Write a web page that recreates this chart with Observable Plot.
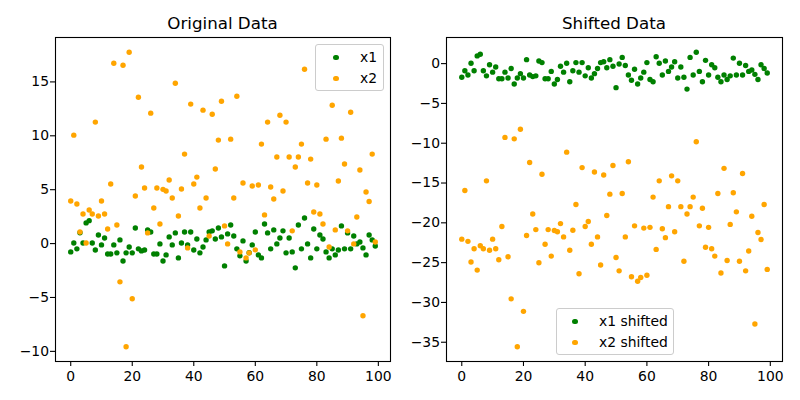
<!DOCTYPE html>
<html><head><meta charset="utf-8">
<script src="https://cdn.jsdelivr.net/npm/d3@7"></script>
<script src="https://cdn.jsdelivr.net/npm/@observablehq/plot@0.6"></script>
<style>
body{margin:0;background:#fff;}
#fig{position:relative;width:800px;height:400px;font-family:"DejaVu Sans",sans-serif;color:#000;overflow:hidden;}
.panel{position:absolute;top:0;}
.title{position:absolute;top:13px;font-size:16.7px;line-height:20px;text-align:center;white-space:nowrap;}
.legend{position:absolute;border:1px solid #cccccc;border-radius:3px;background:rgba(255,255,255,0.8);font-size:13.9px;box-sizing:border-box;}
.row{position:absolute;height:18px;line-height:18px;white-space:nowrap;}
.mk{position:absolute;width:5.4px;height:5.4px;border-radius:50%;}
</style>
</head><body>
<div id="fig">
  <div id="left" class="panel" style="left:0"></div>
  <div id="right" class="panel" style="left:400px"></div>
  <div class="title" style="left:55px;width:335px;">Original Data</div>
  <div class="title" style="left:446px;width:336px;">Shifted Data</div>
  <div class="legend" style="left:315px;top:44px;width:69px;height:47px;">
    <span class="mk" style="left:17.3px;top:9.6px;background:#008000"></span>
    <div class="row" style="left:44px;top:3px;">x1</div>
    <span class="mk" style="left:17.3px;top:30.6px;background:#ffa500"></span>
    <div class="row" style="left:44px;top:24px;">x2</div>
  </div>
  <div class="legend" style="left:556px;top:308px;width:118px;height:47px;">
    <span class="mk" style="left:15.3px;top:9.6px;background:#008000"></span>
    <div class="row" style="left:42px;top:3px;">x1 shifted</div>
    <span class="mk" style="left:15.3px;top:30.6px;background:#ffa500"></span>
    <div class="row" style="left:42px;top:24px;">x2 shifted</div>
  </div>
</div>
<script>
const x1 = [-0.77,0.06,-0.49,1.0,0.06,1.92,2.13,0.06,-0.59,0.80,-0.12,0.52,-0.96,-0.96,-0.12,-0.86,0.34,-1.61,-0.86,-0.31,
-0.86,1.45,-0.49,-0.68,-0.59,1.27,1.08,-0.96,-0.96,-0.03,-1.61,-1.05,0.62,-0.12,0.99,-1.33,0.06,1.08,-0.12,1.08,
-0.59,0.43,-0.86,-0.31,0.34,1.08,1.18,0.43,1.45,0.62,-2.07,0.90,1.73,0.71,-0.49,-1.14,0.25,-1.61,-0.85,-0.12,
1.08,-1.05,-1.33,1.82,0.99,-0.49,1.27,-0.03,0.52,1.18,-0.86,0.52,-0.77,-2.25,1.73,-0.49,2.38,-0.03,-1.33,1.36,
-0.49,0.80,0.43,-0.77,-1.33,-0.49,-1.05,-0.59,1.64,-0.49,0.99,-0.49,0.71,-0.03,0.15,-0.40,-1.05,0.80,0.34,-0.22];
const x2 = [3.95,10.06,3.67,1.08,2.75,0.06,3.12,2.75,11.27,2.56,3.95,2.75,1.36,5.53,16.73,1.73,-3.55,16.55,-9.57,17.75,
-5.12,4.41,13.58,7.1,5.15,0.99,12.1,3.3,5.15,1.82,5.03,4.88,5.9,4.23,14.88,2.56,5.06,8.3,-0.4,12.94,
5.53,6.17,3.3,12.38,4.23,0.71,12.0,6.92,9.6,13.2,1.64,-0.03,9.69,4.23,13.67,-0.77,5.62,-1.33,-0.86,5.34,
-0.58,5.43,9.23,2.66,11.27,5.25,4.14,8.03,11.9,4.88,11.27,8.03,1.18,7.1,8.03,9.23,16.18,5.62,7.84,2.93,
5.43,2.75,1.82,9.69,-0.31,12.84,1.27,5.8,9.78,7.38,1.18,12.19,-0.03,2.47,6.82,-6.7,4.78,3.9,8.3,0.15];
const x1Shifted = [-1.72,-0.89,-1.44,0.05,-0.89,0.97,1.18,-0.89,-1.54,-0.15,-1.07,-0.43,-1.91,-1.91,-1.07,-1.81,-0.61,-2.56,-1.81,-1.26,
-1.81,0.50,-1.44,-1.63,-1.54,0.32,0.13,-1.91,-1.91,-0.98,-2.56,-2.00,-0.33,-1.07,0.04,-2.28,-0.89,0.13,-1.07,0.13,
-1.54,-0.52,-1.81,-1.26,-0.61,0.13,0.23,-0.52,0.50,-0.33,-3.02,-0.05,0.78,-0.24,-1.44,-2.09,-0.70,-2.56,-1.80,-1.07,
0.13,-2.00,-2.28,0.87,0.04,-1.44,0.32,-0.98,-0.43,0.23,-1.81,-0.43,-1.72,-3.20,0.78,-1.44,1.43,-0.98,-2.28,0.41,
-1.44,-0.15,-0.52,-1.72,-2.28,-1.44,-2.00,-1.54,0.69,-1.44,0.04,-1.44,-0.24,-0.98,-0.80,-1.35,-2.00,-0.15,-0.61,-1.17];
const x2Shifted = [-22.05,-15.94,-22.33,-24.92,-23.25,-25.94,-22.88,-23.25,-14.73,-23.44,-22.05,-23.25,-24.64,-20.47,-9.27,-24.27,-29.55,-9.45,-35.57,-8.25,
-31.12,-21.59,-12.42,-18.9,-20.85,-25.01,-13.9,-22.7,-20.85,-24.18,-20.97,-21.12,-20.1,-21.77,-11.12,-23.44,-20.94,-17.7,-26.4,-13.06,
-20.47,-19.83,-22.7,-13.62,-21.77,-25.29,-14.0,-19.08,-16.4,-12.8,-24.36,-26.03,-16.31,-21.77,-12.33,-26.77,-20.38,-27.33,-26.86,-20.66,
-26.58,-20.57,-16.77,-23.34,-14.73,-20.75,-21.86,-17.97,-14.1,-21.12,-14.73,-17.97,-24.82,-18.9,-17.97,-16.77,-9.82,-20.38,-18.16,-23.07,
-20.57,-23.25,-24.18,-16.31,-26.31,-13.16,-24.73,-20.2,-16.22,-18.62,-24.82,-13.81,-26.03,-23.53,-19.18,-32.7,-21.22,-22.1,-17.7,-25.85];

const xTicks = [0, 20, 40, 60, 80, 100];
const yTicksLeft = [-10, -5, 0, 5, 10, 15];
const yTicksRight = [-35, -30, -25, -20, -15, -10, -5, 0];

const fmt = d => d < 0 ? "\u2212" + Math.abs(d) : String(d);

function panel(a, b, yDomain, yTicks, ml, mr) {
  return Plot.plot({
    width: 400, height: 400,
    marginLeft: ml, marginRight: mr, marginTop: 37, marginBottom: 39,
    x: {domain: [-4.95, 103.95]},
    y: {domain: yDomain},
    style: {fontFamily: "DejaVu Sans, sans-serif", fontSize: "13.9px", color: "#000", background: "transparent", overflow: "visible"},
    marks: [
      Plot.axisX({ticks: xTicks, tickSize: 5, tickPadding: 4.5, tickFormat: fmt, label: null, strokeWidth: 1.1}),
      Plot.axisY({ticks: yTicks, tickSize: 5, tickPadding: 1.5, tickFormat: fmt, label: null, strokeWidth: 1.1}),
      Plot.dot(a, {x: (d, i) => i, y: d => d, r: 2.7, fill: "#008000"}),
      Plot.dot(b, {x: (d, i) => i, y: d => d, r: 2.7, fill: "#ffa500"}),
      Plot.frame({stroke: "#000", strokeWidth: 1.1})
    ]
  });
}

document.getElementById("left").appendChild(panel(x1, x2, [-10.94, 19.12], yTicksLeft, 55, 10));
document.getElementById("right").appendChild(panel(x1Shifted, x2Shifted, [-37.42, 3.28], yTicksRight, 46, 18));
</script>
</body></html>
